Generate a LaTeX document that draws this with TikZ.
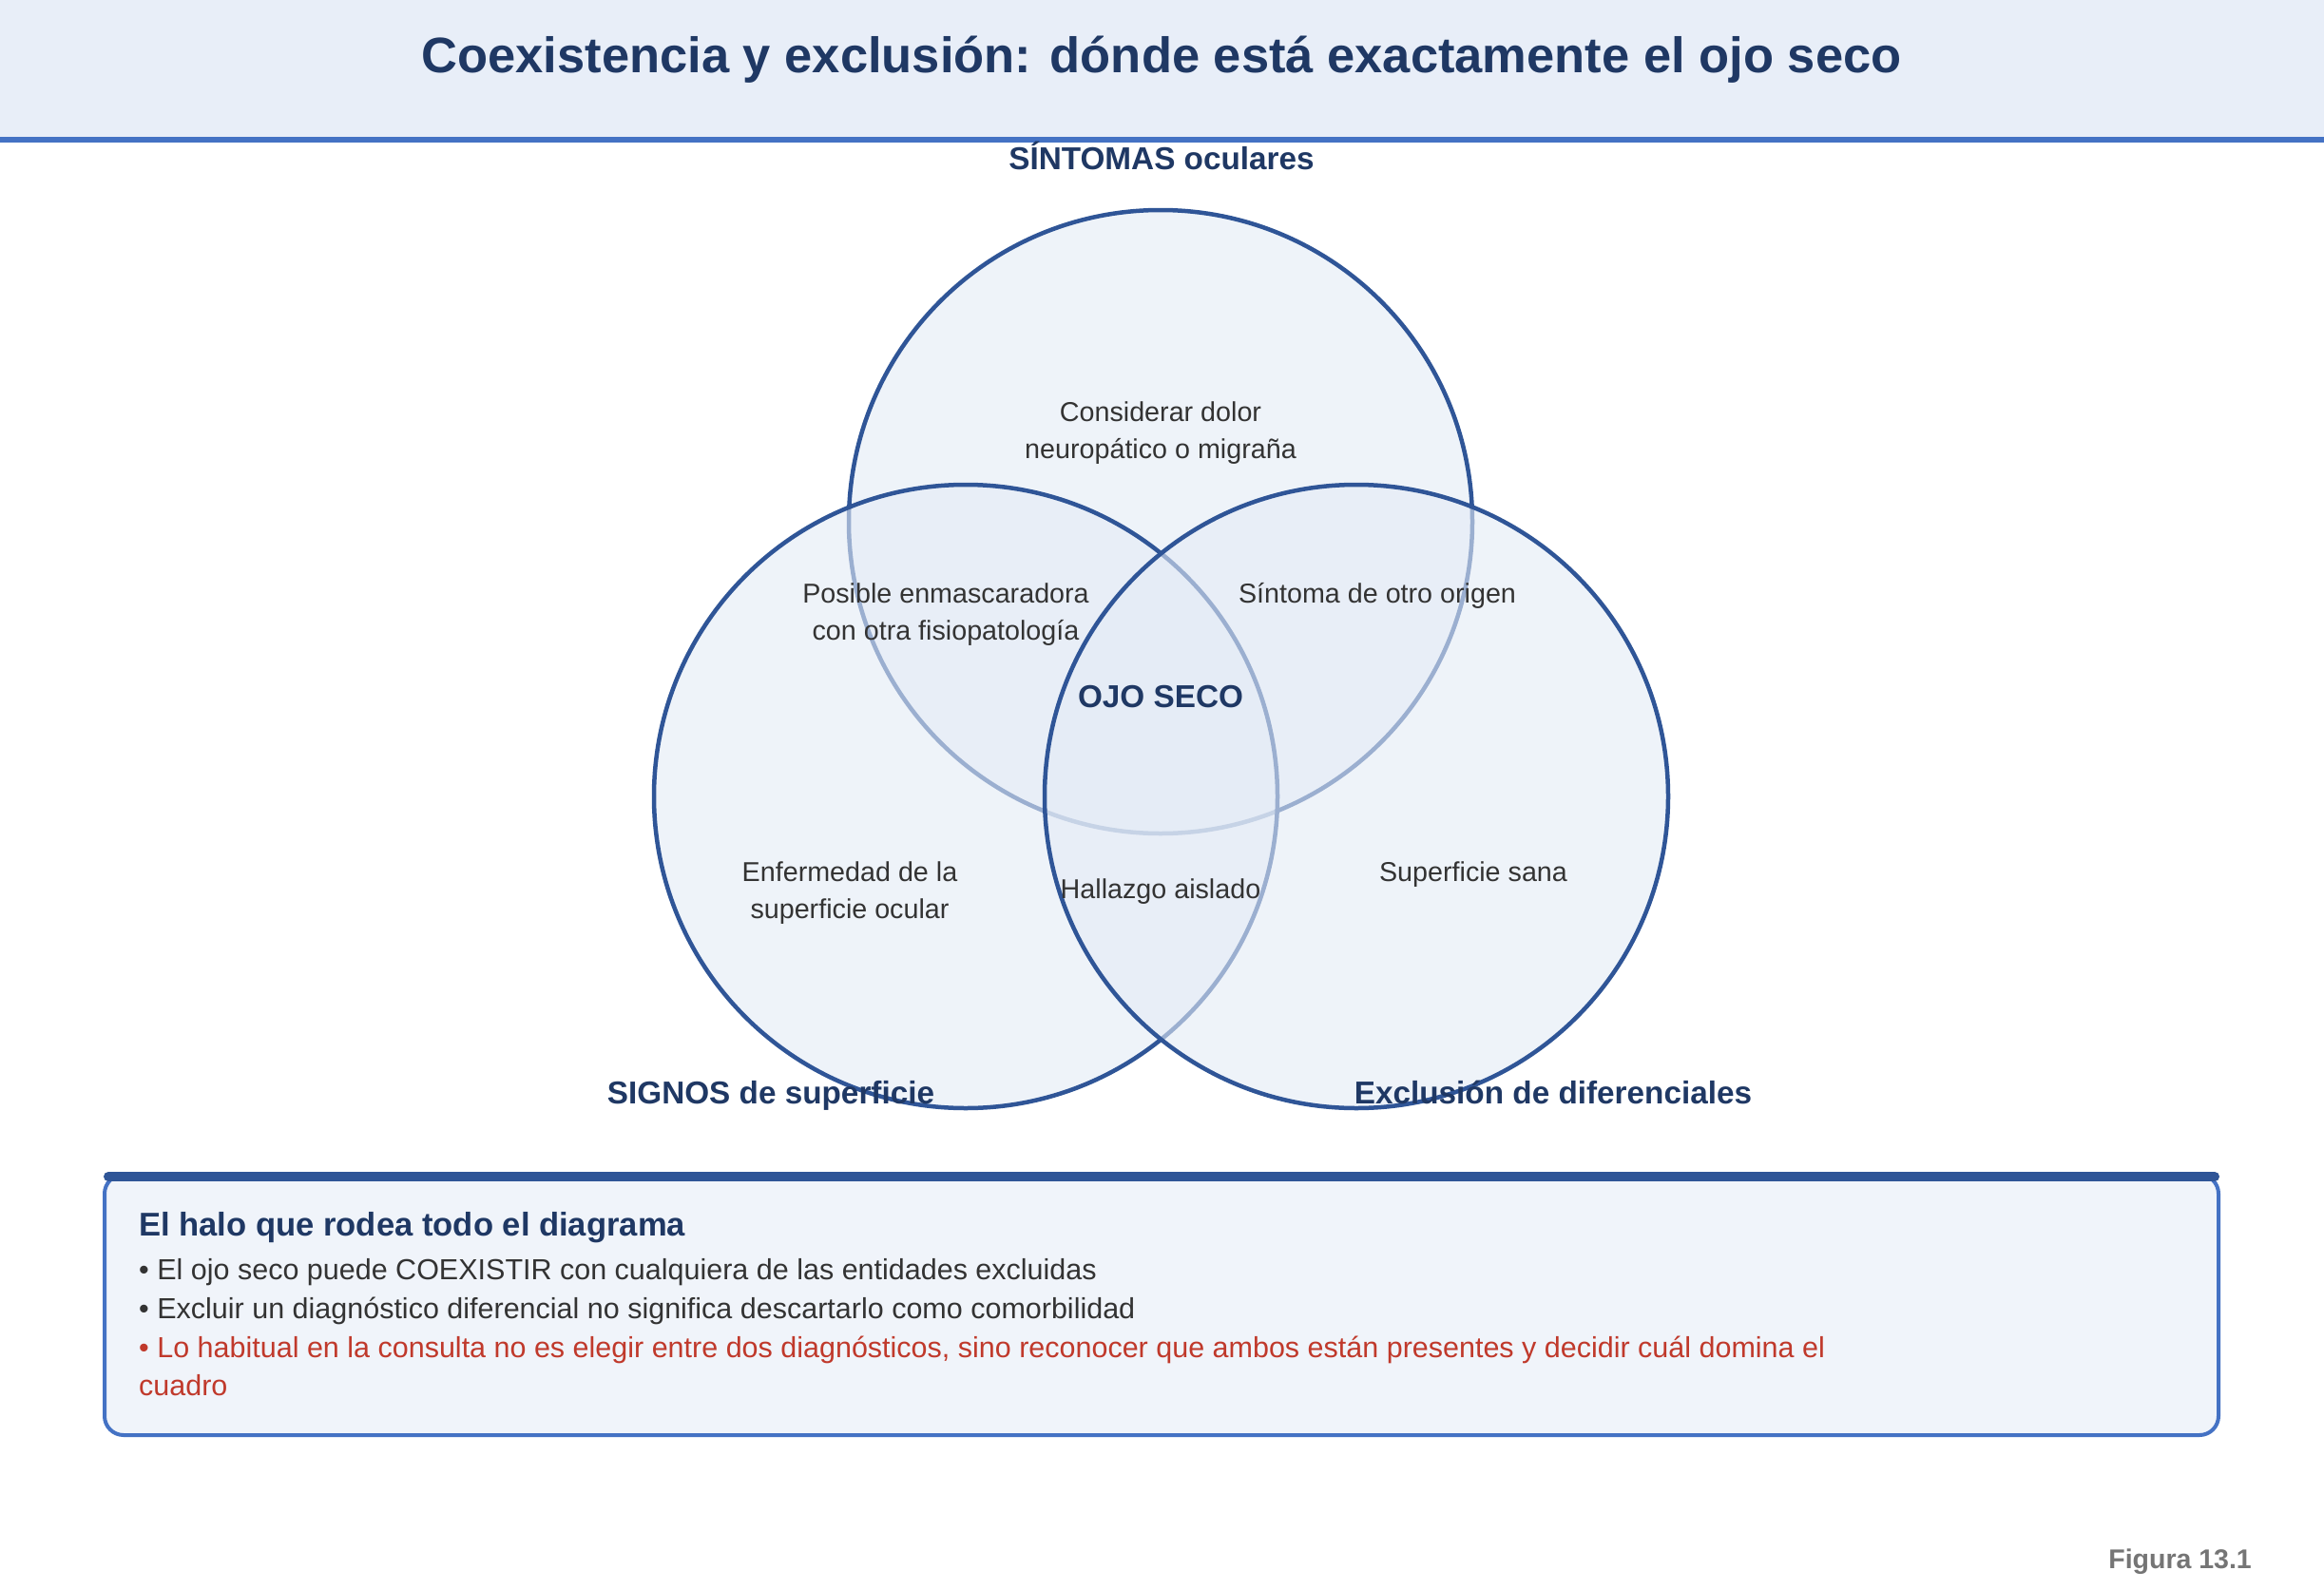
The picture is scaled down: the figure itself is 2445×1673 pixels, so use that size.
\documentclass[tikz,border=0pt]{standalone}
\usepackage{fontspec}
\setmainfont{Liberation Sans}
\definecolor{navy}{HTML}{1F3864}
\definecolor{cstroke}{HTML}{2F5597}
\definecolor{cfill}{HTML}{E4EBF6}
\definecolor{band}{HTML}{E8EEF8}
\definecolor{bandline}{HTML}{4472C4}
\definecolor{boxfill}{HTML}{F0F4FA}
\definecolor{txt}{HTML}{333333}
\definecolor{redtxt}{HTML}{C0392B}
\definecolor{figgray}{HTML}{757575}
\tikzset{
  venn/.style={draw=cstroke, line width=4.5pt, fill=cfill, fill opacity=0.6},
  lbl/.style={font=\fontsize{33.3}{38}\selectfont\bfseries, text=navy, inner sep=0pt},
  region/.style={font=\fontsize{28.7}{39}\selectfont, text=txt, align=center, inner sep=0pt},
  bul/.style={font=\fontsize{30.5}{39}\selectfont, text=txt, inner sep=0pt, anchor=base west},
}
\begin{document}
\begin{tikzpicture}[x=1pt,y=-1pt]
\useasboundingbox (0,0) rectangle (2445,1673);
\fill[white] (0,0) rectangle (2445,1673);
% header
\fill[band] (0,0) rectangle (2445,145);
\draw[bandline, line width=6pt] (0,147) -- (2445,147);
\node[font=\fontsize{52.5}{60}\selectfont\bfseries, text=navy, inner sep=0pt, anchor=base] (title) at (1222,76) {Coexistencia y exclusión: dónde está exactamente el ojo seco};
% circles
\path[venn] (1221,549) circle[radius=328];
\path[venn] (1016,838) circle[radius=328];
\path[venn] (1427,838) circle[radius=328];
\node (ctop) at (1221,549) {};
\node (cleft) at (1016,838) {};
\node (cright) at (1427,838) {};
% set labels
\node[lbl, anchor=base] (lsin) at (1222,178) {SÍNTOMAS oculares};
\node[lbl, anchor=base] (lsig) at (811,1161) {SIGNOS de superficie};
\node[lbl, anchor=base] (lexc) at (1634,1161) {Exclusión de diferenciales};
\node[lbl, anchor=base] (ojo) at (1221,744) {OJO SECO};
% region texts (base anchor = last line baseline)
\node[region, anchor=base] (r1) at (1221,482) {Considerar dolor\\neuropático o migraña};
\node[region, anchor=base] (r2) at (995,673) {Posible enmascaradora\\con otra fisiopatología};
\node[region, anchor=base] (r3) at (1449,634) {Síntoma de otro origen};
\node[region, anchor=base] (r4) at (894,966) {Enfermedad de la\\superficie ocular};
\node[region, anchor=base] (r5) at (1221,945) {Hallazgo aislado};
\node[region, anchor=base] (r6) at (1550,927) {Superficie sana};
% bottom box
\draw[bandline, fill=boxfill, line width=4pt, rounded corners=20pt] (110,1236) rectangle (2334,1510);
\draw[cstroke, line width=10pt, line cap=round] (114,1238) -- (2330,1238);
\node[font=\fontsize{34.6}{40}\selectfont\bfseries, text=navy, inner sep=0pt, anchor=base west] (btitle) at (146,1300) {El halo que rodea todo el diagrama};
\node[bul] (b1) at (146,1346) {• El ojo seco puede COEXISTIR con cualquiera de las entidades excluidas};
\node[bul] (b2) at (146,1387) {• Excluir un diagnóstico diferencial no significa descartarlo como comorbilidad};
\node[bul, text=redtxt] (b3) at (146,1428) {• Lo habitual en la consulta no es elegir entre dos diagnósticos, sino reconocer que ambos están presentes y decidir cuál domina el};
\node[bul, text=redtxt] (b4) at (146,1468) {cuadro};
% figure label
\node[font=\fontsize{28.5}{34}\selectfont\bfseries, text=figgray, inner sep=0pt, anchor=base east] (fig) at (2369,1650) {Figura 13.1};
\end{tikzpicture}
\end{document}
